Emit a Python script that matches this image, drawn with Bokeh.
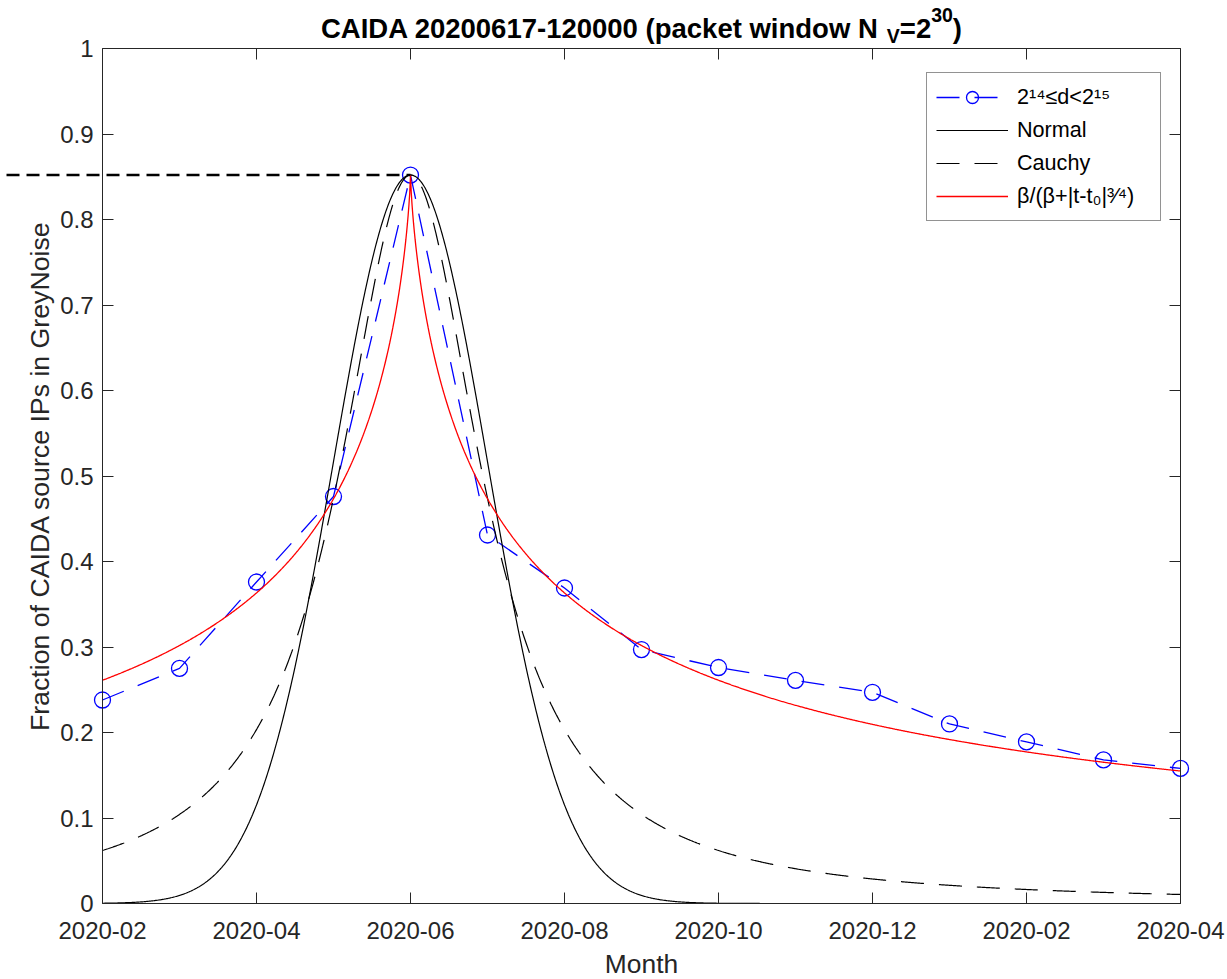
import numpy as np
from bokeh.plotting import figure
from bokeh.models import (Range1d, FixedTicker, LinearAxis, Legend, LegendItem,
                          Label, CustomJSTickFormatter)
from bokeh.embed import file_html
from bokeh.resources import INLINE

# ---------------- data ----------------
months = [0, 1, 2, 3, 4, 5, 6, 7, 8, 9, 10, 11, 12, 13, 14]
fraction = [0.238, 0.275, 0.376, 0.476, 0.852, 0.431, 0.369, 0.297,
            0.276, 0.261, 0.247, 0.210, 0.189, 0.168, 0.158]

x_tick_pos = [0, 2, 4, 6, 8, 10, 12, 14]
x_tick_labels = ["2020-02", "2020-04", "2020-06", "2020-08",
                 "2020-10", "2020-12", "2020-02", "2020-04"]
y_tick_pos = [0.0, 0.1, 0.2, 0.3, 0.4, 0.5, 0.6, 0.7, 0.8, 0.9, 1.0]
y_tick_labels = ["0", "0.1", "0.2", "0.3", "0.4", "0.5",
                 "0.6", "0.7", "0.8", "0.9", "1"]

# fitted model parameters (peak value, centre month, widths, exponent)
peak = 0.852
t0 = 4
sigma = 1.0
gamma = 1.12
beta = 1.25
expo = 0.75

series_names = ["2¹⁴≤d<2¹⁵", "Normal", "Cauchy", "β/(β+|t-t₀|³⁄⁴)"]

title_main = "CAIDA 20200617-120000 (packet window N"
title_sub = "V"
title_mid = "=2"
title_sup = "30"
title_end = ")"

# ---------------- layout / style ----------------
FONT = "Liberation Sans"
AX = "#262626"
W, H = 1227, 979              # whole canvas is the plotting frame
AX_L, AX_R, AX_T, AX_B = 102, 1180, 48, 903   # axes box in pixels
XMIN, XMAX = months[0], months[-1]
YMIN, YMAX = y_tick_pos[0], y_tick_pos[-1]
kx = (AX_R - AX_L) / (XMAX - XMIN)
ky = (AX_B - AX_T) / (YMAX - YMIN)

tt = np.linspace(XMIN, XMAX, 1401)
normal_curve = peak * np.exp(-(tt - t0) ** 2 / (2 * sigma ** 2))
cauchy_curve = peak / (1 + ((tt - t0) / gamma) ** 2)
power_curve = peak * beta / (beta + np.abs(tt - t0) ** expo)

p = figure(frame_width=W, frame_height=H,
           x_range=Range1d(XMIN - AX_L / kx, XMAX + (W - AX_R) / kx),
           y_range=Range1d(YMIN - (H - AX_B) / ky, YMAX + AX_T / ky),
           output_backend="svg", toolbar_location=None,
           min_border=0, min_border_left=0, min_border_right=0,
           min_border_top=0, min_border_bottom=0,
           background_fill_color="white", border_fill_color="white")
p.title.visible = False
p.outline_line_color = None
p.xgrid.visible = False
p.ygrid.visible = False


def style_axis(ax):
    ax.axis_line_color = AX
    ax.axis_line_width = 1
    ax.major_tick_line_color = AX
    ax.major_tick_line_width = 1
    ax.major_tick_in = 11
    ax.major_tick_out = 0
    ax.minor_tick_line_color = None
    ax.major_label_text_font = FONT
    ax.major_label_text_color = AX
    ax.axis_label_text_font = FONT
    ax.axis_label_text_color = AX
    ax.axis_label_text_font_style = "normal"


xa = p.xaxis[0]
xa.ticker = FixedTicker(ticks=x_tick_pos)
xa.major_label_overrides = dict(zip(x_tick_pos, x_tick_labels))
xa.fixed_location = YMIN
xa.bounds = (XMIN, XMAX)
style_axis(xa)
xa.major_label_text_font_size = "24px"
xa.major_label_standoff = 18
xa.axis_label = "Month"
xa.axis_label_text_font_size = "26.4px"
xa.axis_label_standoff = 7

ya = p.yaxis[0]
ya.ticker = FixedTicker(ticks=y_tick_pos)
ya.major_label_overrides = dict(zip(y_tick_pos, y_tick_labels))
ya.fixed_location = XMIN
ya.bounds = (YMIN, YMAX)
style_axis(ya)
ya.major_label_text_font_size = "24px"
ya.major_label_standoff = 9
ya.axis_label = "Fraction of CAIDA source IPs in GreyNoise"
ya.axis_label_text_font_size = "26.7px"
ya.axis_label_standoff = 2

blank = CustomJSTickFormatter(code="return ''")
top = LinearAxis(ticker=FixedTicker(ticks=x_tick_pos), formatter=blank,
                 fixed_location=YMAX, bounds=(XMIN, XMAX))
style_axis(top)
top.major_label_text_font_size = "1px"
top.major_label_standoff = 0
p.add_layout(top, "above")
right = LinearAxis(ticker=FixedTicker(ticks=y_tick_pos), formatter=blank,
                   fixed_location=XMAX, bounds=(YMIN, YMAX))
style_axis(right)
right.major_label_text_font_size = "1px"
right.major_label_standoff = 0
p.add_layout(right, "right")

# ---------------- glyphs ----------------
r_dl = p.line(months, fraction, line_color="#0000FF", line_width=1.3, line_dash="23 15")
r_dp = p.scatter(months, fraction, marker="circle", size=16, line_color="#0000FF",
                 line_width=1.3, fill_color=None)
r_n = p.line(tt, normal_curve, line_color="black", line_width=1.2)
r_c = p.line(tt, cauchy_curve, line_color="black", line_width=1.2, line_dash="23 15")
r_p = p.line(tt, power_curve, line_color="#FF0000", line_width=1.3)

# dashed guide from the far left edge to the peak observation
i_pk = fraction.index(max(fraction))
p.line([XMIN - 96 / kx, months[i_pk]], [fraction[i_pk], fraction[i_pk]],
       line_color="black", line_width=2.6, line_dash="13 7")

legend = Legend(items=[LegendItem(label=series_names[0], renderers=[r_dl, r_dp]),
                       LegendItem(label=series_names[1], renderers=[r_n]),
                       LegendItem(label=series_names[2], renderers=[r_c]),
                       LegendItem(label=series_names[3], renderers=[r_p])],
                location=(926, H - 221))
legend.border_line_color = AX
legend.border_line_width = 1
legend.background_fill_color = "white"
legend.background_fill_alpha = 1
legend.label_text_font = FONT
legend.label_text_font_size = "21.6px"
legend.label_text_color = "black"
legend.glyph_width = 72
legend.glyph_height = 30
legend.label_height = 30
legend.label_width = 134
legend.label_standoff = 9
legend.spacing = 3
legend.padding = 9
legend.margin = 0
p.add_layout(legend)

# ---------------- title (with sub/superscript) ----------------
AB = {'C': 722, 'A': 722, 'I': 278, 'D': 722, ' ': 278, '-': 333, '(': 333, ')': 333,
      'p': 611, 'a': 556, 'c': 556, 'k': 556, 'e': 556, 't': 333, 'w': 778, 'i': 278,
      'n': 611, 'd': 611, 'o': 611, 'N': 722, 'V': 667, '=': 584}


def wbold(s, size):
    return sum(AB.get(ch, 556) for ch in s) / 1000.0 * size


S_MAIN, S_SMALL = 27.5, 19.5
gap = 8
widths = [wbold(title_main, S_MAIN), gap, wbold(title_sub, S_SMALL),
          wbold(title_mid, S_MAIN), wbold(title_sup, S_SMALL), wbold(title_end, S_MAIN)]
start = (AX_L + AX_R) / 2 - sum(widths) / 2
anchor = start + widths[0]
base_y = H - 28


def tlabel(text, x, y, size, align):
    p.add_layout(Label(x=x, y=y, x_units="screen", y_units="screen", text=text,
                       text_font=FONT, text_font_size=f"{size}px", text_font_style="bold",
                       text_color="black", text_align=align, text_baseline="alphabetic"))


tlabel(title_main, anchor, base_y, S_MAIN, "right")
x = anchor + gap
tlabel(title_sub, x, base_y - 7, S_SMALL, "left")
x += widths[2]
tlabel(title_mid, x, base_y, S_MAIN, "left")
x += widths[3]
tlabel(title_sup, x, base_y + 14, S_SMALL, "left")
x += widths[4]
tlabel(title_end, x, base_y, S_MAIN, "left")

open("out.html", "w").write(file_html(p, INLINE))
